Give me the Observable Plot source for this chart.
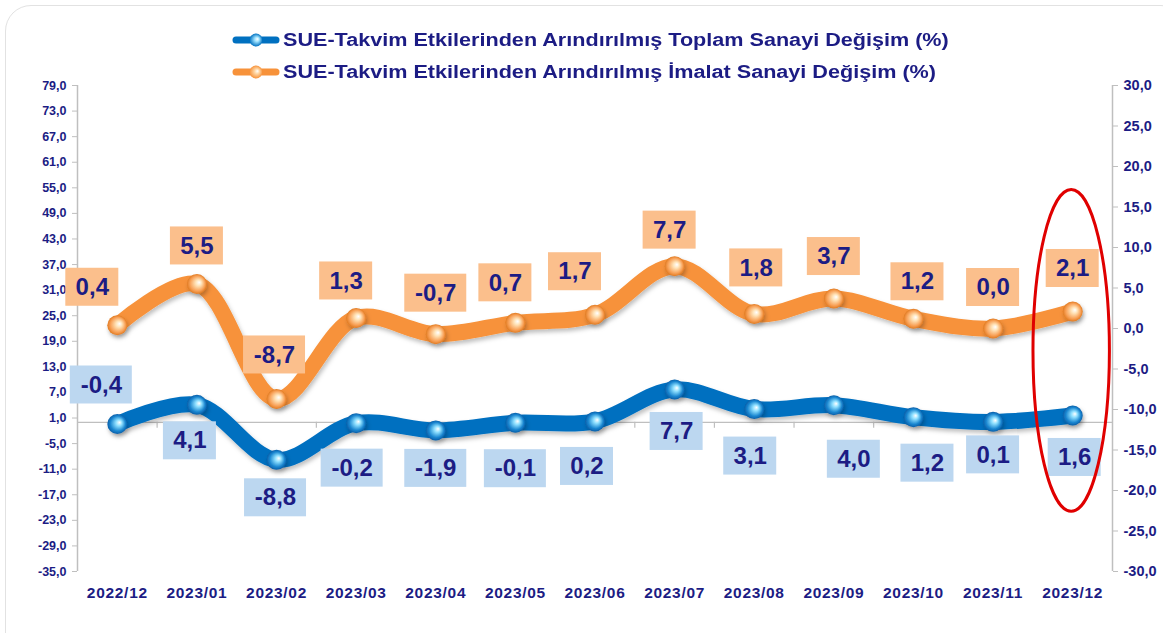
<!DOCTYPE html>
<html><head><meta charset="utf-8">
<script src="https://cdn.jsdelivr.net/npm/d3@7"></script>
<script src="https://cdn.jsdelivr.net/npm/@observablehq/plot@0.6"></script>
<style>
body{margin:0;background:#fff;font-family:"Liberation Sans",Arial,sans-serif;overflow:hidden;}
#card{position:absolute;left:5px;top:5px;width:1180px;height:660px;border:1.5px solid #e2e2e2;border-radius:26px;}
.row{position:absolute;left:232px;height:24px;display:flex;align-items:center;font-weight:bold;font-size:18px;color:#1c1c84;white-space:nowrap;}
.row svg{margin-right:3px;}
.row span{display:inline-block;transform:scaleX(1.2);transform-origin:left center;}
#chart{position:absolute;left:0;top:80px;}
</style></head><body>
<div id="card"></div>
<div id="legend"></div>
<div id="chart"></div>
<script>
// ---- data ----
const categories = ["2022/12","2023/01","2023/02","2023/03","2023/04","2023/05","2023/06","2023/07","2023/08","2023/09","2023/10","2023/11","2023/12"];
const toplam = [-0.4, 4.1, -8.8, -0.2, -1.9, -0.1, 0.2, 7.7, 3.1, 4.0, 1.2, 0.1, 1.6];
const imalat = [0.4, 5.5, -8.7, 1.3, -0.7, 0.7, 1.7, 7.7, 1.8, 3.7, 1.2, 0.0, 2.1];
const leftTicks = [-35, -29, -23, -17, -11, -5, 1, 7, 13, 19, 25, 31, 37, 43, 49, 55, 61, 67, 73, 79];
const rightTicks = [-30, -25, -20, -15, -10, -5, 0, 5, 10, 15, 20, 25, 30];
const seriesNames = [
  "SUE-Takvim Etkilerinden Arındırılmış Toplam Sanayi Değişim (%)",
  "SUE-Takvim Etkilerinden Arındırılmış İmalat Sanayi Değişim (%)"
];
const highlightCategory = "2023/12";

// ---- layout / style ----
const navy = "#1c1c84";
const blue = "#0070c0", orange = "#f7923a";
const W = 1163, H = 553, mt = 5, mb = 62, ml = 77, mr = 51;
const leftDomain = [-35, 79], rightDomain = [-30, 30];
const toLeft = v => leftDomain[0] + (v - rightDomain[0]) * (leftDomain[1] - leftDomain[0]) / (rightDomain[1] - rightDomain[0]);
const toRight = v => rightDomain[0] + (v - leftDomain[0]) * (rightDomain[1] - rightDomain[0]) / (leftDomain[1] - leftDomain[0]);
const fmt = v => (Math.round(v * 10) / 10).toFixed(1).replace(".", ",");
const pxX = (W - ml - mr) / categories.length;
const pxY = (H - mt - mb) / (leftDomain[1] - leftDomain[0]);
// label nudges (pixels) relative to each point
const nudgeOrange = [[-25,-38],[0,-38],[-2,-44],[-10,-37],[0,-41],[-10,-40],[-20,-43],[-5,-36],[2,-46],[0,-42],[4,-37],[0,-41],[0,-43]];
const nudgeBlue = [[-16,-39],[-7,36],[-1,38],[-4,45],[0,38],[0,46],[-8,45],[2,42],[-4,47],[20,54],[14,46],[0,33],[2,42]];

const rowsBlue = toplam.map((v, i) => ({i, raw: v, v, nx: nudgeBlue[i][0], ny: nudgeBlue[i][1]}));
const rowsOrange = imalat.map((v, i) => ({i, raw: v, v: toLeft(v), nx: nudgeOrange[i][0], ny: nudgeOrange[i][1]}));
const lx = d => d.i + d.nx / pxX;
const ly = d => d.v - d.ny / pxY;
const halfW = d => (fmt(d.raw).length > 3 ? 31 : 26.5) / pxX;
const halfH = 19 / pxY;

// legend
const legend = document.getElementById("legend");
[[blue, "gB"], [orange, "gO"]].forEach(([c, g], k) => {
  const row = document.createElement("div");
  row.className = "row";
  row.style.top = (28 + k * 32) + "px";
  row.innerHTML = `<svg width="48" height="20"><defs>
    <radialGradient id="L${g}" cx="0.5" cy="0.5" r="0.5" fx="0.62" fy="0.42">
      <stop offset="0" stop-color="#fff"/><stop offset="0.35" stop-color="${k ? '#ffd9a8' : '#9fe3ff'}"/><stop offset="1" stop-color="${c}"/></radialGradient></defs>
    <line x1="4" x2="44" y1="10" y2="10" stroke="${c}" stroke-width="7" stroke-linecap="round"/>
    <circle cx="24" cy="10" r="6.5" fill="url(#L${g})"/></svg><span>${seriesNames[k]}</span>`;
  legend.appendChild(row);
});

const ns = "http://www.w3.org/2000/svg";
function defsMark() {
  const defs = document.createElementNS(ns, "defs");
  defs.innerHTML = `
    <radialGradient id="gB" cx="0.5" cy="0.5" r="0.5" fx="0.62" fy="0.42">
      <stop offset="0" stop-color="#ffffff"/><stop offset="0.3" stop-color="#8fe0ff"/><stop offset="0.75" stop-color="#1a86d0"/><stop offset="1" stop-color="#0a5ea8"/></radialGradient>
    <radialGradient id="gO" cx="0.5" cy="0.5" r="0.5" fx="0.62" fy="0.42">
      <stop offset="0" stop-color="#ffffff"/><stop offset="0.3" stop-color="#ffe3b8"/><stop offset="0.75" stop-color="#f8a056"/><stop offset="1" stop-color="#e07a20"/></radialGradient>
    <filter id="sh" x="-10%" y="-20%" width="120%" height="150%"><feDropShadow dx="1.5" dy="3" stdDeviation="2" flood-color="#000" flood-opacity="0.25"/></filter>`;
  return defs;
}
function ellipseMark(index, scales) {
  const i = categories.indexOf(highlightCategory);
  const el = document.createElementNS(ns, "ellipse");
  const cx = scales.x(i) - 1;
  const y1 = scales.y(54.5), y2 = scales.y(-21);
  el.setAttribute("cx", cx);
  el.setAttribute("cy", (y1 + y2) / 2);
  el.setAttribute("rx", pxX * 0.48);
  el.setAttribute("ry", Math.abs(y2 - y1) / 2);
  el.setAttribute("fill", "none");
  el.setAttribute("stroke", "#e00000");
  el.setAttribute("stroke-width", 3);
  return el;
}

const idx = categories.map((_, i) => i);
const boundaries = idx.slice(1).map(i => i - 0.5);
const grey = "#bfbfbf";

const plot = Plot.plot({
  width: W, height: H,
  marginTop: mt, marginBottom: mb, marginLeft: ml, marginRight: mr,
  x: {type: "linear", domain: [-0.5, categories.length - 0.5]},
  y: {domain: leftDomain},
  style: {fontFamily: "'Liberation Sans', Arial, sans-serif", color: navy, background: "transparent", overflow: "visible"},
  marks: [
    defsMark,
    Plot.ruleX([-0.5, categories.length - 0.5], {stroke: grey, strokeWidth: 1.5}),
    Plot.ruleY([0], {stroke: grey, strokeWidth: 1.2}),
    Plot.ruleX(boundaries, {y1: 0, y2: -6 / pxY, stroke: grey, strokeWidth: 1.2}),
    Plot.axisY(leftTicks, {anchor: "left", tickSize: 5, tickPadding: 6, stroke: grey, fill: navy, tickFormat: fmt, fontWeight: "bold", fontSize: 12.5, label: null}),
    Plot.axisY(rightTicks.map(toLeft), {anchor: "right", tickSize: 5, tickPadding: 6, stroke: grey, fill: navy, tickFormat: d => fmt(toRight(d)), fontWeight: "bold", fontSize: 14.5, label: null}),
    Plot.axisX(idx, {anchor: "bottom", tickSize: 0, tickPadding: 15, fill: navy, tickFormat: i => categories[i], fontWeight: "bold", fontSize: 15.5, label: null}),
    Plot.line(rowsOrange, {x: "i", y: "v", curve: "catmull-rom", stroke: orange, strokeWidth: 16, strokeLinecap: "round", strokeLinejoin: "round"}),
    Plot.line(rowsBlue, {x: "i", y: "v", curve: "catmull-rom", stroke: blue, strokeWidth: 16, strokeLinecap: "round", strokeLinejoin: "round"}),
    Plot.dot(rowsOrange, {x: "i", y: "v", r: 10, fill: "url(#gO)"}),
    Plot.dot(rowsBlue, {x: "i", y: "v", r: 10, fill: "url(#gB)"}),
    Plot.rect(rowsOrange, {x1: d => lx(d) - halfW(d), x2: d => lx(d) + halfW(d), y1: d => ly(d) - halfH, y2: d => ly(d) + halfH, fill: "#fbbf8c"}),
    Plot.rect(rowsBlue, {x1: d => lx(d) - halfW(d), x2: d => lx(d) + halfW(d), y1: d => ly(d) - halfH, y2: d => ly(d) + halfH, fill: "#bcd7f0"}),
    Plot.text(rowsOrange, {x: lx, y: ly, text: d => fmt(d.raw), fill: navy, fontWeight: "bold", fontSize: 24}),
    Plot.text(rowsBlue, {x: lx, y: ly, text: d => fmt(d.raw), fill: navy, fontWeight: "bold", fontSize: 24}),
    ellipseMark
  ]
});
d3.select(plot).selectAll('g[aria-label="line"]').attr("filter", "url(#sh)");
d3.select(plot).selectAll('g[aria-label="dot"]').attr("filter", "url(#sh)");
d3.select(plot).selectAll('g[aria-label="x-axis tick label"] text').style("letter-spacing", "0.7px");
document.getElementById("chart").appendChild(plot);
</script>
</body></html>
